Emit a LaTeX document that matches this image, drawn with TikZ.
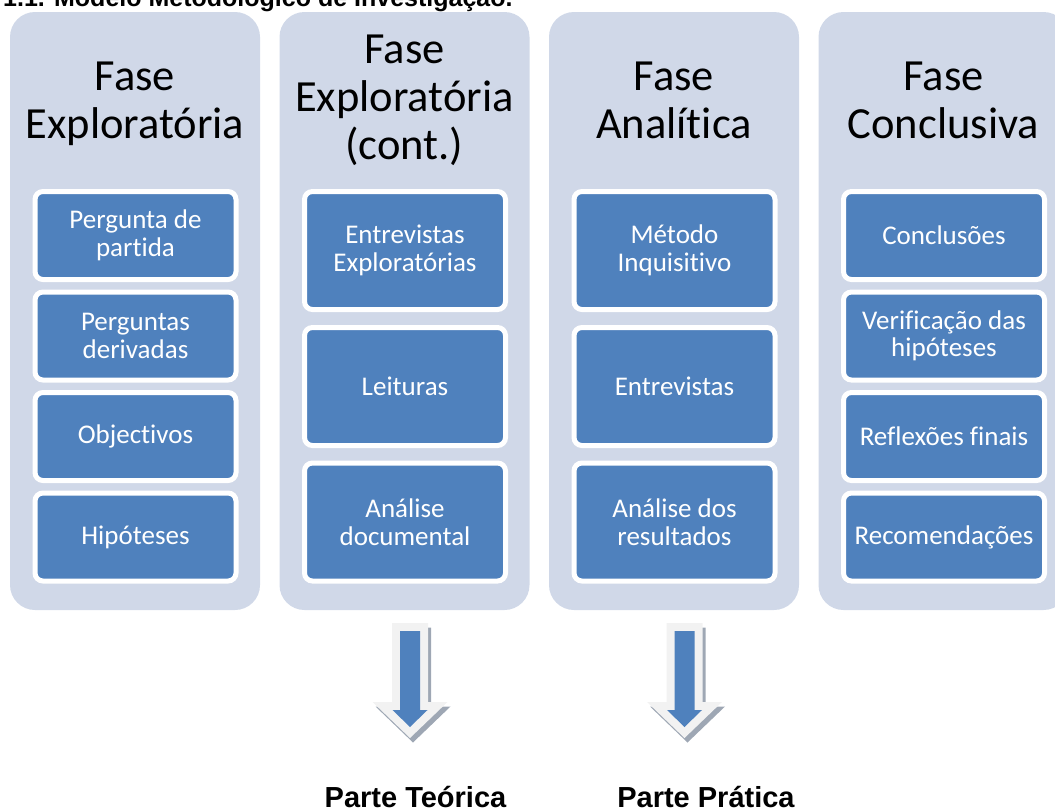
\documentclass[tikz,border=0pt]{standalone}
\usepackage{fontspec}
\setmainfont{Carlito}[Ligatures=NoCommon]
\newfontfamily\arialfont{Liberation Sans}
\definecolor{cbg}{RGB}{208,216,232}
\definecolor{cblue}{RGB}{79,129,189}
\definecolor{carrlight}{RGB}{242,242,242}
\definecolor{carrshadow}{RGB}{158,167,180}
\begin{document}
\begin{tikzpicture}[x=1pt,y=-1pt,
  colbox/.style={fill=cbg, draw=none, rounded corners=25pt, minimum width=250pt, minimum height=598pt, inner sep=0pt},
  hdr/.style={font=\fontsize{44.5}{48}\selectfont, align=center, anchor=base, inner sep=0pt, text=black},
  itembox/.style={fill=cblue, draw=white, line width=5pt, rounded corners=8pt, minimum width=201pt, text=white, font=\fontsize{27}{27.5}\selectfont, align=center, inner sep=0pt},
  itemshort/.style={itembox, minimum height=88pt},
  itemtall/.style={itembox, minimum height=118pt},
  partlbl/.style={font=\arialfont\bfseries\fontsize{29}{32}\selectfont, anchor=base, inner sep=0pt, text=black}]
\clip (0,0) rectangle (1055,807);
% title (cut at the top)
\node[font=\arialfont\bfseries\fontsize{25}{28}\selectfont, anchor=base west, inner sep=0pt] (title) at (3,6.5) {1.1. Modelo Metodológico de Investigação.};
% columns
\node[colbox] (c1) at (135,311) {};
\node[colbox] (c2) at (404.5,311) {};
\node[colbox] (c3) at (674,311) {};
\node[colbox] (c4) at (943.5,311) {};
% headers (anchor base = baseline of the last line)
\node[hdr] (h1) at (135,138) {Fase\\Exploratória};
\node[hdr] (h2) at (404.5,159) {Fase\\Exploratória\\(cont.)};
\node[hdr] (h3) at (674,138) {Fase\\Analítica};
\node[hdr] (h4) at (943.5,138) {Fase\\Conclusiva};
% column 1
\node[itemshort] (a1) at (135.5,235.5) {Pergunta de\\partida};
\node[itemshort] (a2) at (135.5,336) {Perguntas\\derivadas};
\node[itemshort] (a3) at (135.5,436.5) {Objectivos};
\node[itemshort] (a4) at (135.5,537) {Hipóteses};
% column 2
\node[itemtall] (b1) at (405,250.5) {Entrevistas\\Exploratórias};
\node[itemtall] (b2) at (405,386.5) {Leituras};
\node[itemtall] (b3) at (405,522) {Análise\\documental};
% column 3
\node[itemtall] (d1) at (674.5,250.5) {Método\\Inquisitivo};
\node[itemtall] (d2) at (674.5,386.5) {Entrevistas};
\node[itemtall] (d3) at (674.5,522) {Análise dos\\resultados};
% column 4
\node[itemshort] (e1) at (944,235.5) {Conclusões};
\node[itemshort] (e2) at (944,336) {Verificação das\\hipóteses};
\node[itemshort] (e3) at (944,436.5) {Reflexões finais};
\node[itemshort] (e4) at (944,537) {Recomendações};
% block arrows
\foreach \cx in {410,684.5} {
  \begin{scope}[shift={(\cx,0)}]
    \fill[carrshadow, shift={(3,4.5)}] (-18,623) -- (18,623) -- (18,702) -- (37.5,702) -- (0,738) -- (-37.5,702) -- (-18,702) -- cycle;
    \fill[carrlight] (-18,623) -- (18,623) -- (18,702) -- (37.5,702) -- (0,738) -- (-37.5,702) -- (-18,702) -- cycle;
    \fill[cblue] (-10,631) -- (10,631) -- (10,710) -- (17.5,710) -- (0,727) -- (-17.5,710) -- (-10,710) -- cycle;
  \end{scope}
}
% labels
\node[partlbl] (pt) at (415.5,807) {Parte Teórica};
\node[partlbl] (pp) at (706,807) {Parte Prática};
\end{tikzpicture}
\end{document}
